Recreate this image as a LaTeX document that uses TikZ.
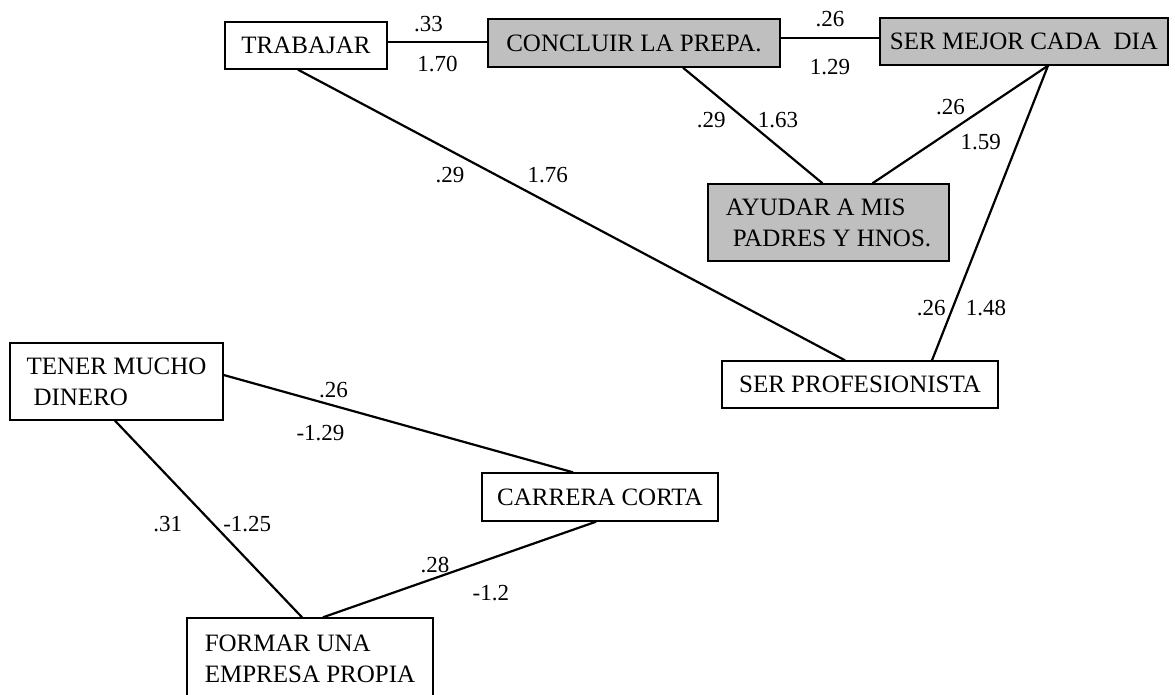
\documentclass[tikz,border=0pt]{standalone}
\usepackage{fontspec}
\setmainfont{Liberation Serif}
\usetikzlibrary{positioning}

\tikzset{
  box/.style={draw, rectangle, line width=1.4pt, inner sep=0pt, font=\fontsize{25}{31}\selectfont},
  shaded/.style={box, fill=black!25},
  conn/.style={line width=2.2pt},
  num/.style={inner sep=0pt, font=\fontsize{23}{26}\selectfont},
}

\begin{document}
\begin{tikzpicture}[x=1pt,y=-1pt]
  \useasboundingbox (0,0) rectangle (1175,694);
  \node[box, minimum width=162pt, minimum height=47pt] (trab) at (306,45.5) {TRABAJAR};
  \node[shaded, minimum width=292pt, minimum height=48pt] (concl) at (634,43) {CONCLUIR LA PREPA.};
  \node[shaded, minimum width=288pt, minimum height=47pt] (mejor) at (1024,41.5) {SER MEJOR CADA \ DIA};
  \node[shaded, minimum width=241pt, minimum height=77pt, align=left] (ayudar) at (828.5,222.5) {AYUDAR A MIS\\\hspace*{7pt}PADRES Y HNOS.};
  \node[box, minimum width=276pt, minimum height=47pt] (prof) at (860,384.5) {SER PROFESIONISTA};
  \node[box, minimum width=213pt, minimum height=77pt, align=left] (tener) at (116.5,381.5) {TENER MUCHO\\\hspace*{7pt}DINERO};
  \node[box, minimum width=236pt, minimum height=48pt] (carrera) at (600,497) {CARRERA CORTA};
  \node[box, minimum width=246pt, minimum height=82pt, align=left] (formar) at (310,659) {FORMAR UNA\\EMPRESA PROPIA};

  % top row
  \draw[conn] ([yshift=3.5pt]trab.east) to node[num, above=9pt, xshift=-9pt] {.33} node[num, below=13pt] {1.70} ([yshift=1pt]concl.west);
  \draw[conn] ([yshift=5pt]concl.east) to node[num, above=10pt] {.26} node[num, below=20pt] {1.29} ([yshift=3.5pt]mejor.west);

  % to ayudar / profesionista
  \draw[conn] ([xshift=49pt]concl.south) to node[num, left=19pt, pos=0.45] {.29} node[num, right=11pt, pos=0.45] {1.63} ([xshift=-6pt]ayudar.north);
  \draw[conn] ([xshift=24pt]mejor.south) to node[num, left=20pt, pos=0.353] {.26} node[num, right=25pt, pos=0.647] {1.59} ([xshift=44pt]ayudar.north);
  \draw[conn] ([xshift=24pt]mejor.south) to node[num, left=6pt, pos=0.821] {.26} node[num, right=12pt, pos=0.821] {1.48} ([xshift=72pt]prof.north);
  \draw[conn] ([xshift=-8pt]trab.south) to node[num, left=31pt, pos=0.363] {.29} node[num, right=30pt, pos=0.363] {1.76} ([xshift=-15pt]prof.north);

  % bottom group
  \draw[conn] ([yshift=6.5pt]tener.east) to node[num, above=7pt, pos=0.314] {.26} node[num, below=22pt, pos=0.277] {-1.29} ([xshift=-27pt]carrera.north);
  \draw[conn] ([xshift=-1.5pt]tener.south) to node[num, left=30pt, pos=0.525] {.31} node[num, right=9pt, pos=0.525] {-1.25} ([xshift=-8pt]formar.north);
  \draw[conn] ([xshift=-4pt]carrera.south) to node[num, above=4pt, pos=0.59] {.28} node[num, below=26pt, pos=0.385] {-1.2} ([xshift=13pt]formar.north);
\end{tikzpicture}
\end{document}
